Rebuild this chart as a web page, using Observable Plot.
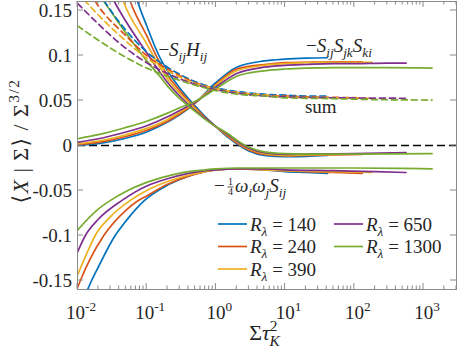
<!DOCTYPE html>
<html><head><meta charset="utf-8">
<script src="https://cdn.jsdelivr.net/npm/d3@7"></script>
<script src="https://cdn.jsdelivr.net/npm/@observablehq/plot@0.6"></script>
<style>
body{margin:0;background:#fff}
</style>
</head><body><div id="chart"></div>
<script>
// Reynolds numbers and colours
const reynolds = ["140", "240", "390", "650", "1300"];
const colors = ["#0072BD", "#D95319", "#EDB120", "#7E2F8E", "#77AC30"];

// -S_ij H_ij  (x = Sigma tau_K^2, y)
const SH_140 = [[0.06,0.185],[0.074,0.16],[0.1,0.133],[0.15,0.1],[0.2,0.083],[0.3,0.064],[0.5,0.044],[0.7,0.032],[1,0.021],[1.5,0.009],[2,0.002],[3,-0.006],[5,-0.011],[10,-0.0125],[20,-0.012],[41,-0.011]];
const SH_240 = [[0.05,0.175],[0.058,0.16],[0.1,0.122],[0.15,0.094],[0.2,0.078],[0.3,0.061],[0.5,0.042],[0.7,0.031],[1,0.021],[1.5,0.010],[2,0.003],[3,-0.005],[5,-0.010],[10,-0.0115],[20,-0.011],[50,-0.0105],[130,-0.010]];
const SH_390 = [[0.04,0.173],[0.046,0.16],[0.1,0.113],[0.15,0.089],[0.2,0.074],[0.3,0.058],[0.5,0.041],[0.7,0.030],[1,0.021],[1.5,0.011],[2,0.004],[3,-0.004],[5,-0.009],[10,-0.011],[20,-0.0105],[50,-0.010],[180,-0.0095]];
const SH_650 = [[0.03,0.168],[0.034,0.16],[0.05,0.138],[0.1,0.103],[0.15,0.083],[0.2,0.070],[0.3,0.055],[0.5,0.039],[0.7,0.030],[1,0.021],[1.5,0.012],[2,0.005],[3,-0.003],[5,-0.008],[10,-0.010],[20,-0.0095],[100,-0.009],[560,-0.008]];
const SH_1300 = [[0.02,0.168],[0.024,0.16],[0.05,0.125],[0.1,0.094],[0.15,0.078],[0.2,0.066],[0.3,0.052],[0.5,0.038],[0.7,0.029],[1,0.021],[1.5,0.013],[2,0.006],[3,-0.002],[5,-0.007],[10,-0.009],[20,-0.0095],[100,-0.0095],[1330,-0.009]];

// -S_ij S_jk S_ki
const SSS_140 = [[0.01,0.0003],[0.02,0.002],[0.05,0.008],[0.1,0.015],[0.2,0.026],[0.3,0.034],[0.5,0.047],[1,0.07],[2,0.087],[5,0.094],[10,0.096],[20,0.097],[41,0.0975]];
const SSS_240 = [[0.01,0.001],[0.02,0.0035],[0.05,0.010],[0.1,0.017],[0.2,0.027],[0.3,0.035],[0.5,0.047],[1,0.068],[2,0.085],[5,0.090],[10,0.092],[20,0.0925],[50,0.093],[130,0.093]];
const SSS_390 = [[0.01,0.002],[0.02,0.005],[0.05,0.012],[0.1,0.019],[0.2,0.029],[0.3,0.037],[0.5,0.048],[1,0.067],[2,0.083],[5,0.089],[10,0.091],[20,0.092],[50,0.0925],[180,0.0925]];
const SSS_650 = [[0.01,0.0035],[0.02,0.0075],[0.05,0.015],[0.1,0.022],[0.2,0.032],[0.3,0.039],[0.5,0.048],[1,0.065],[2,0.080],[5,0.087],[10,0.089],[20,0.090],[50,0.091],[100,0.091],[300,0.0915],[560,0.0915]];
const SSS_1300 = [[0.01,0.0075],[0.02,0.012],[0.05,0.020],[0.1,0.027],[0.2,0.036],[0.3,0.042],[0.5,0.049],[1,0.063],[2,0.077],[5,0.083],[10,0.085],[20,0.086],[50,0.0865],[100,0.0865],[300,0.0865],[1330,0.086]];

// -1/4 omega_i omega_j S_ij
const OWS_140 = [[0.013,-0.166],[0.016,-0.15],[0.02,-0.135],[0.035,-0.1],[0.05,-0.084],[0.093,-0.061],[0.2,-0.044],[0.4,-0.034],[0.7,-0.029],[1,-0.027],[2,-0.026],[5,-0.027],[10,-0.029],[20,-0.030],[41,-0.031]];
const OWS_240 = [[0.01,-0.158],[0.011,-0.15],[0.015,-0.127],[0.024,-0.1],[0.05,-0.072],[0.073,-0.062],[0.1,-0.056],[0.2,-0.043],[0.4,-0.034],[0.7,-0.029],[1,-0.027],[2,-0.026],[5,-0.027],[10,-0.028],[20,-0.029],[50,-0.030],[130,-0.031]];
const OWS_390 = [[0.01,-0.144],[0.014,-0.118],[0.018,-0.1],[0.03,-0.079],[0.058,-0.061],[0.1,-0.05],[0.2,-0.04],[0.4,-0.033],[0.7,-0.029],[1,-0.027],[2,-0.026],[5,-0.027],[10,-0.028],[50,-0.029],[180,-0.030]];
const OWS_650 = [[0.01,-0.1185],[0.013,-0.1],[0.02,-0.082],[0.044,-0.061],[0.1,-0.045],[0.2,-0.037],[0.4,-0.031],[0.7,-0.028],[1,-0.027],[2,-0.026],[5,-0.026],[10,-0.027],[50,-0.028],[200,-0.029],[560,-0.030]];
const OWS_1300 = [[0.01,-0.094],[0.019,-0.072],[0.03,-0.061],[0.05,-0.051],[0.1,-0.041],[0.2,-0.034],[0.4,-0.029],[0.7,-0.027],[1,-0.026],[2,-0.025],[5,-0.025],[10,-0.025],[100,-0.025],[500,-0.0255],[1330,-0.026]];

// sum (dashed)
const SUM_140 = [[0.02,0.17],[0.05,0.128],[0.1,0.104],[0.2,0.087],[0.5,0.071],[1,0.064],[2,0.060],[5,0.057],[10,0.056],[20,0.055],[41,0.055]];
const SUM_240 = [[0.015,0.17],[0.02,0.155],[0.05,0.122],[0.1,0.1],[0.2,0.085],[0.5,0.070],[1,0.063],[2,0.059],[5,0.056],[10,0.055],[50,0.0535],[130,0.053]];
const SUM_390 = [[0.01,0.17],[0.02,0.145],[0.05,0.116],[0.1,0.097],[0.2,0.083],[0.5,0.069],[1,0.063],[2,0.059],[5,0.056],[10,0.054],[50,0.053],[180,0.0525]];
const SUM_650 = [[0.01,0.158],[0.02,0.135],[0.05,0.108],[0.1,0.092],[0.2,0.080],[0.5,0.068],[1,0.062],[2,0.058],[5,0.055],[10,0.054],[50,0.053],[560,0.0525]];
const SUM_1300 = [[0.01,0.133],[0.02,0.117],[0.05,0.098],[0.1,0.086],[0.2,0.077],[0.5,0.067],[1,0.061],[2,0.057],[5,0.055],[10,0.053],[50,0.052],[200,0.051],[1330,0.0505]];

// axes ticks
const yTicks = [-0.15, -0.1, -0.05, 0, 0.05, 0.1, 0.15];
const yTickLabels = ["-0.15", "-0.1", "-0.05", "0", "0.05", "0.1", "0.15"];
const xMajor = [1e-2, 1e-1, 1e0, 1e1, 1e2, 1e3];
const xMajorExp = ["-2", "-1", "0", "1", "2", "3"];

// build tables
const solidSets = {SH: [SH_140, SH_240, SH_390, SH_650, SH_1300], SSS: [SSS_140, SSS_240, SSS_390, SSS_650, SSS_1300], OWS: [OWS_140, OWS_240, OWS_390, OWS_650, OWS_1300]};
const sumSet = [SUM_140, SUM_240, SUM_390, SUM_650, SUM_1300];
const solidRows = [];
reynolds.forEach((R, i) => {
  for (const q of ["SH", "SSS", "OWS"]) for (const [x, y] of solidSets[q][i]) solidRows.push({q, R, x, y});
});
const sumRows = [];
reynolds.forEach((R, i) => { for (const [x, y] of sumSet[i]) sumRows.push({q: "sum", R, x, y}); });

const FONT = "Liberation Serif, DejaVu Serif, serif";
const W = 457, H = 349;
const chart = Plot.plot({
  width: W, height: H,
  marginLeft: 77, marginRight: 1, marginTop: 1, marginBottom: 60,
  style: {fontFamily: FONT, background: "#fff"},
  x: {type: "log", domain: [0.01, 3000], axis: null},
  y: {domain: [-0.16, 0.16], axis: null},
  color: {domain: reynolds, range: colors},
  marks: [
    Plot.ruleY([0], {stroke: "#000", strokeWidth: 1.3, strokeDasharray: "8,4"}),
    ...reynolds.map(R => Plot.line(solidRows.filter(d => d.R === R), {x: "x", y: "y", z: "q", stroke: "R", strokeWidth: 1.7, curve: "monotone-x", clip: true})),
    ...reynolds.map(R => Plot.line(sumRows.filter(d => d.R === R), {x: "x", y: "y", stroke: "R", strokeWidth: 1.7, strokeDasharray: "6,4", curve: "monotone-x", clip: true})),
    Plot.frame({stroke: "#8a8a8a", strokeWidth: 1})
  ]
});
document.getElementById("chart").appendChild(chart);

const sx = chart.scale("x"), sy = chart.scale("y");
const svg = d3.select(chart);
const X0 = sx.apply(0.01), X1 = sx.apply(3000), Y0 = sy.apply(-0.16), Y1 = sy.apply(0.16);
const g = svg.append("g");
const tickCol = "#8a8a8a", txtCol = "#262626";

// x ticks (major + minor), inward on bottom and top
for (let e = -2; e <= 3; e++) for (let k = 1; k <= 9; k++) {
  const v = k * Math.pow(10, e);
  if (v > 3000) continue;
  const px = sx.apply(v), len = k === 1 ? 6 : 3.5;
  g.append("line").attr("x1", px).attr("x2", px).attr("y1", Y0).attr("y2", Y0 - len).attr("stroke", tickCol);
  g.append("line").attr("x1", px).attr("x2", px).attr("y1", Y1).attr("y2", Y1 + len).attr("stroke", tickCol);
}
// y ticks left and right
yTicks.forEach((v, i) => {
  const py = sy.apply(v);
  g.append("line").attr("x1", X0).attr("x2", X0 + 6).attr("y1", py).attr("y2", py).attr("stroke", tickCol);
  g.append("line").attr("x1", X1).attr("x2", X1 - 6).attr("y1", py).attr("y2", py).attr("stroke", tickCol);
  g.append("text").attr("x", X0 - 5).attr("y", py).attr("dy", "0.35em").attr("text-anchor", "end")
    .attr("font-size", 19).attr("fill", txtCol).text(yTickLabels[i]);
});

// rich text helper
function rich(parent, x, y, parts, size, anchor) {
  const t = parent.append("text").attr("x", x).attr("y", y).attr("font-size", size)
    .attr("text-anchor", anchor || "start").attr("fill", txtCol);
  let shift = 0;
  for (const p of parts) {
    const s = p.sub ? size * 0.28 : p.sup ? -size * 0.42 : 0;
    const ts = t.append("tspan").text(p.t).attr("dy", s - shift);
    if (p.dx) ts.attr("dx", p.dx);
    shift = s;
    if (p.sub || p.sup) ts.attr("font-size", size * 0.7);
    if (p.it) ts.attr("font-style", "italic");
  }
  return t;
}

// x tick labels 10^n
xMajor.forEach((v, i) => {
  rich(g, sx.apply(v) + 4, 319, [{t: "10"}, {t: xMajorExp[i], sup: true}], 19, "middle");
});

// axis labels
rich(g, (X0 + X1) / 2 - 2, 340, [{t: "Σ"}, {t: "τ", it: true}, {t: "2", sup: true}, {t: "K", sub: true, it: true, dx: -8}], 22, "middle");
const yl = g.append("g").attr("transform", `translate(28,${(Y0 + Y1) / 2 - 4}) rotate(-90)`);
rich(yl, 0, 0, [{t: "⟨"}, {t: "X", it: true}, {t: "\u2009|\u2009Σ"}, {t: "⟩"}, {t: "\u2009/\u2009Σ"}, {t: "3/2", sup: true}], 22, "middle")
  .attr("letter-spacing", 1.5);

// annotations (data coordinates)
rich(g, sx.apply(0.15), sy.apply(0.099), [{t: "−"}, {t: "S", it: true}, {t: "ij", it: true, sub: true}, {t: "H", it: true}, {t: "ij", it: true, sub: true}], 19);
rich(g, sx.apply(20.4), sy.apply(0.1037), [{t: "−"}, {t: "S", it: true}, {t: "ij", it: true, sub: true}, {t: "S", it: true}, {t: "jk", it: true, sub: true}, {t: "S", it: true}, {t: "ki", it: true, sub: true}], 19);
rich(g, sx.apply(19.7), sy.apply(0.0355), [{t: "sum"}], 19);
{
  const ax = sx.apply(0.955), ay = sy.apply(-0.0522);
  rich(g, ax, ay, [{t: "−"}], 19);
  g.append("text").attr("x", ax + 16.5).attr("y", ay - 6.5).attr("font-size", 10).attr("text-anchor", "middle").attr("fill", txtCol).text("1");
  g.append("line").attr("x1", ax + 13.5).attr("x2", ax + 19.5).attr("y1", ay - 5).attr("y2", ay - 5).attr("stroke", txtCol).attr("stroke-width", 0.8);
  g.append("text").attr("x", ax + 16.5).attr("y", ay + 3.5).attr("font-size", 10).attr("text-anchor", "middle").attr("fill", txtCol).text("4");
  rich(g, ax + 21, ay, [{t: "ω", it: true}, {t: "i", it: true, sub: true}, {t: "ω", it: true}, {t: "j", it: true, sub: true}, {t: "S", it: true}, {t: "ij", it: true, sub: true}], 19);
}

// legend
reynolds.forEach((R, i) => {
  const col = i < 3 ? 0 : 1, row = i < 3 ? i : i - 3;
  const lx = col === 0 ? 218 : 334, ly = 224 + row * 22.5;
  g.append("line").attr("x1", lx).attr("x2", lx + 29).attr("y1", ly).attr("y2", ly).attr("stroke", colors[i]).attr("stroke-width", 1.7);
  rich(g, lx + 32, ly + 6.5, [{t: "R", it: true}, {t: "λ", it: true, sub: true}, {t: " = " + R}], 19);
});
</script></body></html>
